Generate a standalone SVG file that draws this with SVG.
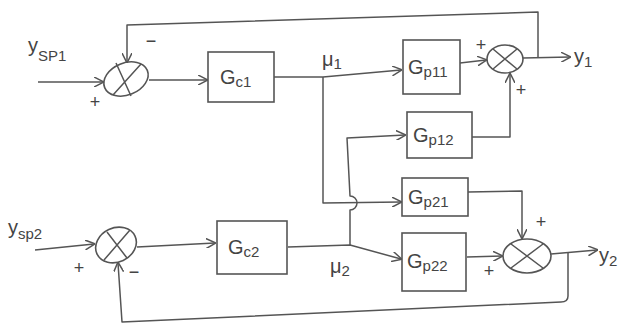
<svg xmlns="http://www.w3.org/2000/svg" width="620" height="325" viewBox="0 0 620 325">
<style>
.ln{fill:none;stroke:#555;stroke-width:1.5;stroke-linejoin:round}
.bx{fill:none;stroke:#555;stroke-width:1.6}
.t{font-family:"Liberation Sans",Arial,sans-serif;fill:#444;font-size:20px}
.s{font-size:15px}
.pm{font-family:"Liberation Sans",Arial,sans-serif;fill:#444;font-size:18px;text-anchor:middle}
</style>
<defs>
<marker id="ar" viewBox="0 0 10 10" refX="9" refY="5" markerWidth="10" markerHeight="10" markerUnits="userSpaceOnUse" orient="auto">
<path d="M0,0 L10,5 L0,10" fill="none" stroke="#555" stroke-width="1.5"/>
</marker>
</defs>
<rect width="620" height="325" fill="#fff"/>
<g id="connectors">
<path class="ln" d="M38,82 L103,82" marker-end="url(#ar)"/>
<path class="ln" d="M149,80 L207,80" marker-end="url(#ar)"/>
<path class="ln" d="M274,77 L323,77 L401,70" marker-end="url(#ar)"/>
<path class="ln" d="M323,77 L323,203 L401,202" marker-end="url(#ar)"/>
<path class="ln" d="M350,245 L350,210 A7,7 0 0 0 350,196 L347,138 L405,135" marker-end="url(#ar)"/>
<path class="ln" d="M460,63 L486,60" marker-end="url(#ar)"/>
<path class="ln" d="M472,137 L510,137 L510,74" marker-end="url(#ar)"/>
<path class="ln" d="M523,58 L570,57" marker-end="url(#ar)"/>
<path class="ln" d="M538,57 L538,12 L127,25 L127,62" marker-end="url(#ar)"/>
<path class="ln" d="M35,250 L94,244" marker-end="url(#ar)"/>
<path class="ln" d="M137,247 L215,243" marker-end="url(#ar)"/>
<path class="ln" d="M288,247 L350,245 L401,259" marker-end="url(#ar)"/>
<path class="ln" d="M468,192 L522,191 L522,238" marker-end="url(#ar)"/>
<path class="ln" d="M467,257 L502,256" marker-end="url(#ar)"/>
<path class="ln" d="M551,254 L597,250" marker-end="url(#ar)"/>
<path class="ln" d="M568,253 L568,296 Q568,302 561,302 L122,322 L118,263" marker-end="url(#ar)"/>
</g>
<g id="sum1">
<ellipse class="bx" cx="126" cy="79" rx="23" ry="16" transform="rotate(-22 126 79)"/>
<path class="ln" d="M113,95 L141,64 M116,63 L131,96"/>
</g>
<g id="gc1">
<rect class="bx" x="208" y="52" width="66" height="50"/>
<text class="t" x="220" y="84">G<tspan class="s" dy="3">c1</tspan></text>
</g>
<g id="gp11">
<rect class="bx" x="403" y="40" width="57" height="54"/>
<text class="t" x="408" y="74">G<tspan class="s" dy="3">p11</tspan></text>
</g>
<g id="gp12">
<rect class="bx" x="407" y="112" width="65" height="46"/>
<text class="t" x="413" y="142">G<tspan class="s" dy="3">p12</tspan></text>
</g>
<g id="gp21">
<rect class="bx" x="402" y="178" width="66" height="38"/>
<text class="t" x="408" y="204">G<tspan class="s" dy="3">p21</tspan></text>
</g>
<g id="gp22">
<rect class="bx" x="402" y="233" width="64" height="58"/>
<text class="t" x="407" y="268">G<tspan class="s" dy="3">p22</tspan></text>
</g>
<g id="sumy1">
<ellipse class="bx" cx="505" cy="59" rx="18" ry="14"/>
<path class="ln" d="M493,69 L517,49 M493,49 L517,69"/>
</g>
<g id="sum2">
<ellipse class="bx" cx="116" cy="245" rx="21" ry="17" transform="rotate(-25 116 245)"/>
<path class="ln" d="M104,260 L130,230 M107,232 L127,258"/>
</g>
<g id="gc2">
<rect class="bx" x="217" y="221" width="70" height="53"/>
<text class="t" x="228" y="254">G<tspan class="s" dy="3">c2</tspan></text>
</g>
<g id="sumy2">
<ellipse class="bx" cx="527" cy="256" rx="24" ry="17"/>
<path class="ln" d="M511,268 L543,244 M511,244 L543,268"/>
</g>
<g id="labels">
<text class="t" x="28" y="52">y<tspan class="s" dy="9">SP1</tspan></text>
<text class="pm" x="151" y="47">−</text>
<text class="pm" x="95" y="108">+</text>
<text class="t" x="322" y="66">μ<tspan class="s" dy="3">1</tspan></text>
<text class="pm" x="481" y="51">+</text>
<text class="pm" x="521" y="96">+</text>
<text class="t" x="574" y="63">y<tspan class="s" dy="4">1</tspan></text>
<text class="t" x="8" y="234">y<tspan class="s" dy="5">sp2</tspan></text>
<text class="pm" x="79" y="274">+</text>
<text class="pm" x="134" y="278">−</text>
<text class="t" x="330" y="273">μ<tspan class="s" dy="3">2</tspan></text>
<text class="pm" x="541" y="228">+</text>
<text class="pm" x="489" y="277">+</text>
<text class="t" x="599" y="262">y<tspan class="s" dy="4">2</tspan></text>
</g>
</svg>
